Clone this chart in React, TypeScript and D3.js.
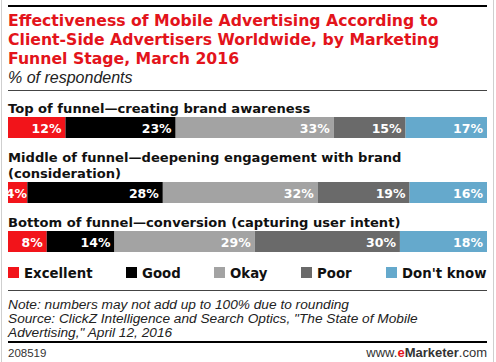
import * as React from "react";
import * as d3 from "d3";

const stages = [
  ["Top of funnel—creating brand awareness"],
  ["Middle of funnel—deepening engagement with brand", "(consideration)"],
  ["Bottom of funnel—conversion (capturing user intent)"],
];
const ratings = ["Excellent", "Good", "Okay", "Poor", "Don't know"];
const colors = ["#f2141a", "#000000", "#a3a3a3", "#6a6a6a", "#65a9cc"];
const values = [
  [12, 23, 33, 15, 17],
  [4, 28, 32, 19, 16],
  [8, 14, 29, 30, 18],
];

const titleLines = [
  "Effectiveness of Mobile Advertising According to",
  "Client-Side Advertisers Worldwide, by Marketing",
  "Funnel Stage, March 2016",
];
const noteLines = [
  "Note: numbers may not add up to 100% due to rounding",
  "Source: ClickZ Intelligence and Search Optics, \"The State of Mobile",
  "Advertising,\" April 12, 2016",
];

const W = 496;
const H = 362;
const left = 8;
const right = 487;
const heavy = "'DejaVu Sans', sans-serif";
const plain = "'Liberation Sans', Arial, sans-serif";

// row layout: label baselines and bar top
const rows = [
  { labelY: [113], barY: 117 },
  { labelY: [162, 178], barY: 182 },
  { labelY: [227], barY: 231 },
];
const barH = 21;

export default function App() {
  const color = d3.scaleOrdinal<string, string>().domain(ratings).range(colors);

  return (
    <div style={{ position: "absolute", left: 0, top: 0 }}>
      <svg width={W} height={H} style={{ display: "block", background: "#fff" }}>
        <rect x={1.5} y={-1} width={W - 4} height={H + 2} fill="none" stroke="#cfcfcf" />
        <line x1={left} x2={right} y1={6} y2={6} stroke="#000" strokeWidth={2} />
        {titleLines.map((t, i) => (
          <text key={i} x={left} y={25.5 + i * 19} fill="#e3141b" fontFamily={heavy}
            fontWeight={700} fontSize={15.7}>{t}</text>
        ))}
        <text x={left} y={83} fontFamily={plain} fontStyle="italic" fontSize={16} fill="#222">
          % of respondents
        </text>
        <line x1={left} x2={right} y1={90.5} y2={90.5} stroke="#444" strokeWidth={1} />

        {values.map((row, r) => {
          const x = d3.scaleLinear().domain([0, d3.sum(row)]).range([left, right]);
          const cum = d3.cumsum(row);
          return (
            <g key={r}>
              {stages[r].map((s, j) => (
                <text key={j} x={left} y={rows[r].labelY[j]} fontFamily={heavy} fontWeight={700}
                  fontSize={13.1} fill="#111">{s}</text>
              ))}
              {row.map((v, k) => {
                const x0 = x(cum[k] - v);
                const x1 = x(cum[k]);
                return (
                  <g key={k}>
                    <rect x={x0} y={rows[r].barY} width={x1 - x0} height={barH}
                      fill={color(ratings[k])} />
                    <text x={Math.max(x1 - 4, x0 + 19)} y={rows[r].barY + barH / 2 + 5} textAnchor="end"
                      fontFamily={heavy} fontWeight={700} fontSize={12.5} fill="#fff">{v}%</text>
                  </g>
                );
              })}
            </g>
          );
        })}

        {ratings.map((name, k) => {
          const lx = [8, 126, 214, 301, 386][k];
          return (
            <g key={name} transform={`translate(${lx},267)`}>
              <rect width={11} height={11} fill={color(name)} />
              <text x={16} y={11} fontFamily={heavy} fontWeight={700} fontSize={13.3} fill="#111">{name}</text>
            </g>
          );
        })}

        <line x1={left} x2={right} y1={290.5} y2={290.5} stroke="#444" strokeWidth={1} />
        {noteLines.map((t, i) => (
          <text key={i} x={left} y={308.5 + i * 14.2} fontFamily={plain} fontStyle="italic"
            fontSize={13.7} fill="#222">{t}</text>
        ))}
        <line x1={left} x2={right} y1={342} y2={342} stroke="#000" strokeWidth={2} />
        <text x={left} y={357} fontFamily={plain} fontSize={11.5} fill="#333">208519</text>
        <text x={right} y={357} textAnchor="end" fontFamily={plain} fontSize={13} fill="#333">
          www.<tspan fill="#e3141b" fontWeight={700}>e</tspan>
          <tspan fontWeight={700}>Marketer</tspan>.com
        </text>
      </svg>
    </div>
  );
}
